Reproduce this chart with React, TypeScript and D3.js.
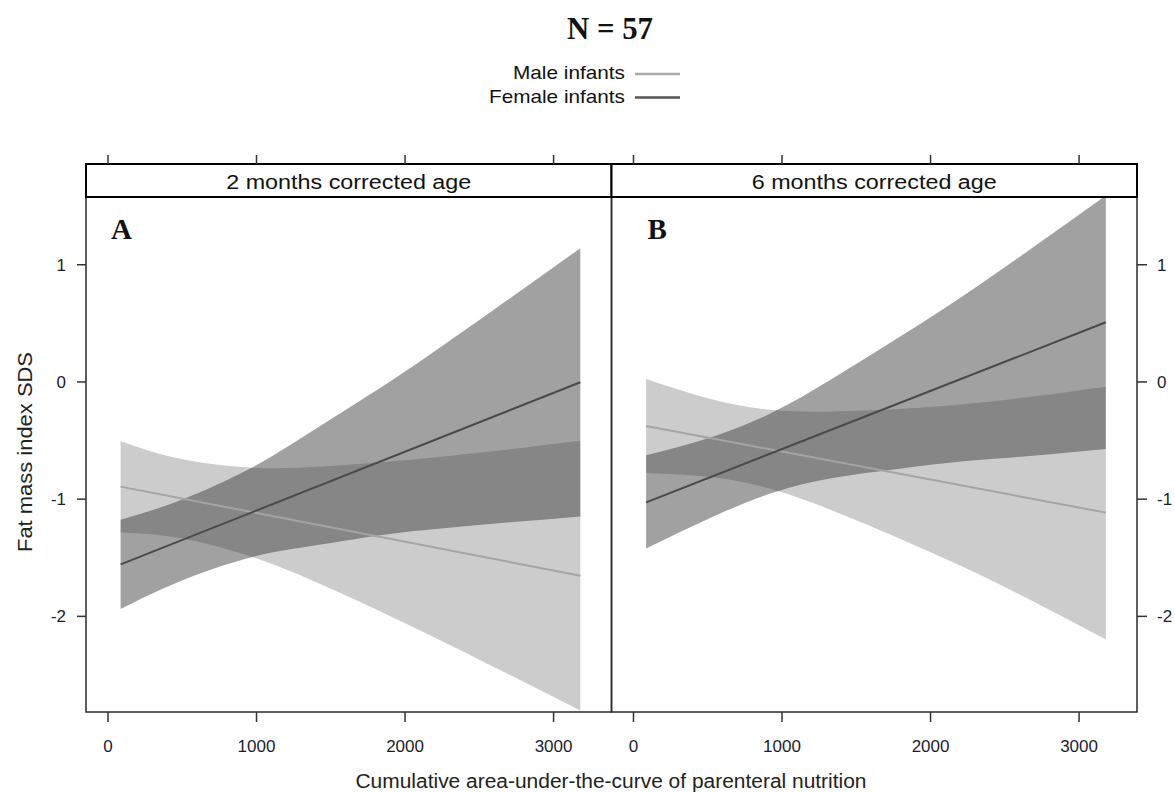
import React from 'react';
import * as d3 from 'd3';

// values
const xTicks = [0, 1000, 2000, 3000];
const yTicks = [-2, -1, 0, 1];
const panelLabels = ['2 months corrected age', '6 months corrected age'];
const panelLetters = ['A', 'B'];
const seriesNames = ['Male infants', 'Female infants'];

const lineX = [85, 3180];

const bandXA = [85, 470, 960, 1410, 1860, 2260, 2710, 3180];
const maleUpperA = [-0.505, -0.65, -0.73, -0.724, -0.684, -0.636, -0.574, -0.502];
const maleLowerA = [-1.285, -1.33, -1.489, -1.713, -1.973, -2.218, -2.502, -2.803];
const femaleUpperA = [-1.175, -1.018, -0.737, -0.391, -0.028, 0.315, 0.717, 1.141];
const femaleLowerA = [-1.937, -1.708, -1.497, -1.391, -1.303, -1.248, -1.197, -1.147];
const maleLineA = [-0.893, -1.653];
const femaleLineA = [-1.556, -0.003];

const bandXB = [85, 534, 938, 1341, 1790, 2238, 2686, 3180];
const maleUpperB = [0.026, -0.15, -0.24, -0.252, -0.231, -0.188, -0.125, -0.04];
const maleLowerB = [-0.777, -0.814, -0.918, -1.098, -1.335, -1.59, -1.869, -2.198];
const femaleUpperB = [-0.625, -0.467, -0.259, 0.03, 0.383, 0.751, 1.145, 1.59];
const femaleLowerB = [-1.42, -1.15, -0.945, -0.82, -0.74, -0.674, -0.63, -0.573];
const maleLineB = [-0.375, -1.115];
const femaleLineB = [-1.027, 0.509];

const panels = [
  { bandX: bandXA, mU: maleUpperA, mL: maleLowerA, fU: femaleUpperA, fL: femaleLowerA, mLine: maleLineA, fLine: femaleLineA },
  { bandX: bandXB, mU: maleUpperB, mL: maleLowerB, fU: femaleUpperB, fL: femaleLowerB, mLine: maleLineB, fLine: femaleLineB },
];

const font = '"Liberation Sans", Arial, sans-serif';
const serif = '"Liberation Serif", "Times New Roman", serif';

const App = () => {
  const Width = 1175;
  const Height = 792;
  const left = 86;
  const panelW = 525.5;
  const top = 197;
  const bottom = 712;
  const stripTop = 164;

  const yScale = d3.scaleLinear().domain([-2.816, 1.578]).range([bottom, top]);

  const maleBand = '#cccccc';
  const femaleBand = '#383838';
  const maleLine = '#a4a4a4';
  const femaleLine = '#4a4a4a';

  const panelEls = panels.map((p, i) => {
    const x0 = left + i * panelW;
    const xScale = d3.scaleLinear().domain([-148, 3390]).range([x0, x0 + panelW]);
    const area = (up: number[], lo: number[]) =>
      d3.area<number>()
        .x((d, k) => xScale(p.bandX[k]))
        .y0((d, k) => yScale(lo[k]))
        .y1((d) => yScale(d))
        .curve(d3.curveNatural)(up);
    const line = d3.line<number>().x((d, k) => xScale(lineX[k])).y((d) => yScale(d));
    const clipId = `clip${i}`;
    return (
      <g key={i}>
        <clipPath id={clipId}>
          <rect x={x0} y={top} width={panelW} height={bottom - top} />
        </clipPath>
        <g clipPath={`url(#${clipId})`}>
          <path d={area(p.mU, p.mL) || ''} fill={maleBand} />
          <path d={area(p.fU, p.fL) || ''} fill={femaleBand} fillOpacity={0.47} />
          <path d={line(p.mLine) || ''} fill="none" stroke={maleLine} strokeWidth={2} />
          <path d={line(p.fLine) || ''} fill="none" stroke={femaleLine} strokeWidth={2} />
        </g>
        <rect x={x0} y={top} width={panelW} height={bottom - top} fill="none" stroke="#2a2a2a" strokeWidth={1.5} />
        <rect x={x0} y={stripTop} width={panelW} height={top - stripTop} fill="#fff" stroke="#000" strokeWidth={2} />
        <text x={x0 + panelW / 2} y={189} textAnchor="middle" fontFamily={font} fontSize={20} fill="#111"
          textLength={245} lengthAdjust="spacingAndGlyphs">{panelLabels[i]}</text>
        <text x={x0 + 25 + (i === 1 ? 11 : 0)} y={239} fontFamily={serif} fontWeight="bold" fontSize={29} fill="#111">{panelLetters[i]}</text>
        {xTicks.map((t) => (
          <g key={t}>
            <line x1={xScale(t)} x2={xScale(t)} y1={bottom} y2={bottom + 10} stroke="#333" strokeWidth={1.5} />
            <line x1={xScale(t)} x2={xScale(t)} y1={stripTop} y2={stripTop - 9} stroke="#333" strokeWidth={1.5} />
            <text x={xScale(t)} y={752} textAnchor="middle" fontFamily={font} fontSize={17} fill="#1c1c2e">{t}</text>
          </g>
        ))}
      </g>
    );
  });

  const rightX = left + 2 * panelW;
  const yAxisEls = yTicks.map((t) => (
    <g key={t}>
      <line x1={left - 9} x2={left} y1={yScale(t)} y2={yScale(t)} stroke="#333" strokeWidth={1.5} />
      <text x={66} y={yScale(t) + 6} textAnchor="end" fontFamily={font} fontSize={17} fill="#1c1c2e">{t}</text>
      <line x1={rightX} x2={rightX + 10} y1={yScale(t)} y2={yScale(t)} stroke="#333" strokeWidth={1.5} />
      <text x={1157} y={yScale(t) + 6} textAnchor="start" fontFamily={font} fontSize={17} fill="#1c1c2e">{t}</text>
    </g>
  ));

  const legendRows = [
    { label: seriesNames[0], color: '#aaaaaa', y: 74, len: 112 },
    { label: seriesNames[1], color: '#555555', y: 97.5, len: 136 },
  ];

  return (
    <svg width={Width} height={Height} style={{ position: 'absolute', left: 0, top: 0, background: '#fff' }}>
      <text x={610} y={39} textAnchor="middle" fontFamily={serif} fontWeight="bold" fontSize={31} fill="#111"
        textLength={86} lengthAdjust="spacingAndGlyphs">N = 57</text>
      {legendRows.map((d) => (
        <g key={d.label}>
          <text x={625} y={d.y + 5} textAnchor="end" fontFamily={font} fontSize={19} fill="#111"
            textLength={d.len} lengthAdjust="spacingAndGlyphs">{d.label}</text>
          <line x1={635} x2={680} y1={d.y} y2={d.y} stroke={d.color} strokeWidth={2.5} />
        </g>
      ))}
      {panelEls}
      {yAxisEls}
      <text transform="translate(32, 452) rotate(-90)" textAnchor="middle" fontFamily={font} fontSize={21} fill="#222"
        textLength={200} lengthAdjust="spacingAndGlyphs">Fat mass index SDS</text>
      <text x={611} y={788} textAnchor="middle" fontFamily={font} fontSize={20} fill="#222"
        textLength={511} lengthAdjust="spacingAndGlyphs">Cumulative area-under-the-curve of parenteral nutrition</text>
    </svg>
  );
};

export default App;
